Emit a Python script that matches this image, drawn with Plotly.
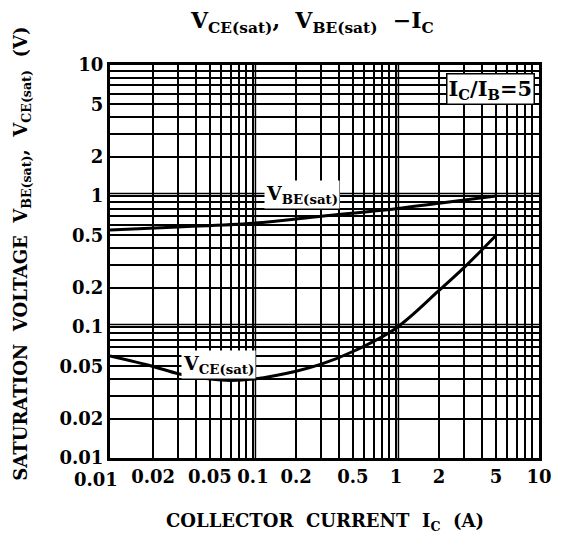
import math
import plotly.graph_objects as go

# Data
ic_vbe = [0.01, 0.03, 0.1, 0.3, 1, 2, 5]
vbe_sat = [0.55, 0.58, 0.62, 0.70, 0.80, 0.88, 1.0]

ic_vce = [0.01, 0.02, 0.03, 0.05, 0.07, 0.1, 0.2, 0.3, 0.5, 1, 2, 3, 5]
vce_sat = [0.060, 0.050, 0.044, 0.040, 0.039, 0.040, 0.046, 0.052, 0.065, 0.098, 0.19, 0.285, 0.50]

x_ticks = [0.02, 0.05, 0.1, 0.2, 0.5, 1, 2, 5, 10]
x_labels = ["0.02", "0.05", "0.1", "0.2", "0.5", "1", "2", "5", "10"]
x_first_tick = 0.01
x_first_label = "0.01"
y_ticks = [0.01, 0.02, 0.05, 0.1, 0.2, 0.5, 1, 2, 5, 10]
y_labels = ["0.01", "0.02", "0.05", "0.1", "0.2", "0.5", "1", "2", "5", "10"]

minor_x = [m * 10 ** e for e in (-2, -1, 0) for m in range(1, 10)] + [10]
minor_y = [m * 10 ** e for e in (-2, -1, 0) for m in range(1, 10)] + [10]
decades = [0.1, 1]

FONT = "DejaVu Serif"

fig = go.Figure()
fig.add_trace(go.Scatter(x=ic_vbe, y=vbe_sat, mode="lines",
                         line=dict(color="black", width=3, shape="spline"),
                         showlegend=False))
fig.add_trace(go.Scatter(x=ic_vce, y=vce_sat, mode="lines",
                         line=dict(color="black", width=3, shape="spline"),
                         showlegend=False))

# doubled decade grid lines
for d in decades:
    fig.add_shape(type="line", xref="x", yref="paper", x0=d * 1.04, x1=d * 1.04, y0=0, y1=1,
                  line=dict(color="black", width=1.5), layer="below")
    fig.add_shape(type="line", xref="paper", yref="y", x0=0, x1=1, y0=d * 1.045, y1=d * 1.045,
                  line=dict(color="black", width=1.5), layer="below")

axis_common = dict(
    type="log", showgrid=True, gridcolor="black", gridwidth=1.5,
    showline=True, linecolor="black", linewidth=3, mirror=True,
    ticks="", tickmode="array", tickangle=0,
    tickfont=dict(family=FONT, size=18, color="black", weight="bold"),
    zeroline=False,
)
fig.update_xaxes(range=[-2, 1], tickvals=x_ticks, ticktext=x_labels,
                 minor=dict(tickmode="array", tickvals=minor_x, showgrid=True,
                            gridcolor="black", gridwidth=1.5, ticks=""),
                 **axis_common)
fig.update_yaxes(range=[-2, 1], tickvals=y_ticks, ticktext=y_labels,
                 minor=dict(tickmode="array", tickvals=minor_y, showgrid=True,
                            gridcolor="black", gridwidth=1.5, ticks=""),
                 **axis_common)

anns = [
    dict(text="V<sub>CE(sat)</sub>,  V<sub>BE(sat)</sub>  −I<sub>C</sub>",
         xref="paper", yref="paper", x=0.47, y=1.11, xanchor="center", yanchor="middle",
         showarrow=False,
         font=dict(family=FONT, size=22, color="black", weight="bold")),
    dict(text="COLLECTOR  CURRENT  I<sub>C</sub>  (A)",
         xref="paper", yref="paper", x=0.5, y=-0.163, xanchor="center", yanchor="middle",
         showarrow=False,
         font=dict(family=FONT, size=18, color="black", weight="bold")),
    dict(text="SATURATION  VOLTAGE  V<sub>BE(sat)</sub>,  V<sub>CE(sat)</sub>  (V)",
         xref="paper", yref="paper", x=-0.205, y=0.52, xanchor="center", yanchor="middle",
         showarrow=False, textangle=-90,
         font=dict(family=FONT, size=18, color="black", weight="bold")),
    dict(text=x_first_label, xref="x", yref="paper", x=math.log10(x_first_tick), y=0,
         xanchor="center", yanchor="top", xshift=-14, yshift=-9, showarrow=False,
         font=dict(family=FONT, size=18, color="black", weight="bold")),
    dict(text="I<sub>C</sub>/I<sub>B</sub>=5", xref="paper", yref="paper",
         x=0.99, y=0.98, xanchor="right", yanchor="top", showarrow=False,
         bgcolor="white", bordercolor="black", borderwidth=1.5, borderpad=1,
         font=dict(family=FONT, size=21, color="black", weight="bold")),
    dict(text="V<sub>BE(sat)</sub>", xref="x", yref="y",
         x=math.log10(0.22), y=math.log10(1.03),
         showarrow=False, bgcolor="white", borderpad=1,
         font=dict(family=FONT, size=19, color="black", weight="bold")),
    dict(text="V<sub>CE(sat)</sub>", xref="x", yref="y",
         x=math.log10(0.057), y=math.log10(0.052),
         showarrow=False, bgcolor="white", borderpad=1,
         font=dict(family=FONT, size=19, color="black", weight="bold")),
]
fig.update_layout(
    width=556, height=530,
    margin=dict(l=102, r=19, t=57, b=80),
    paper_bgcolor="white", plot_bgcolor="white",
    annotations=anns, showlegend=False,
)
fig.write_html("out.html")
